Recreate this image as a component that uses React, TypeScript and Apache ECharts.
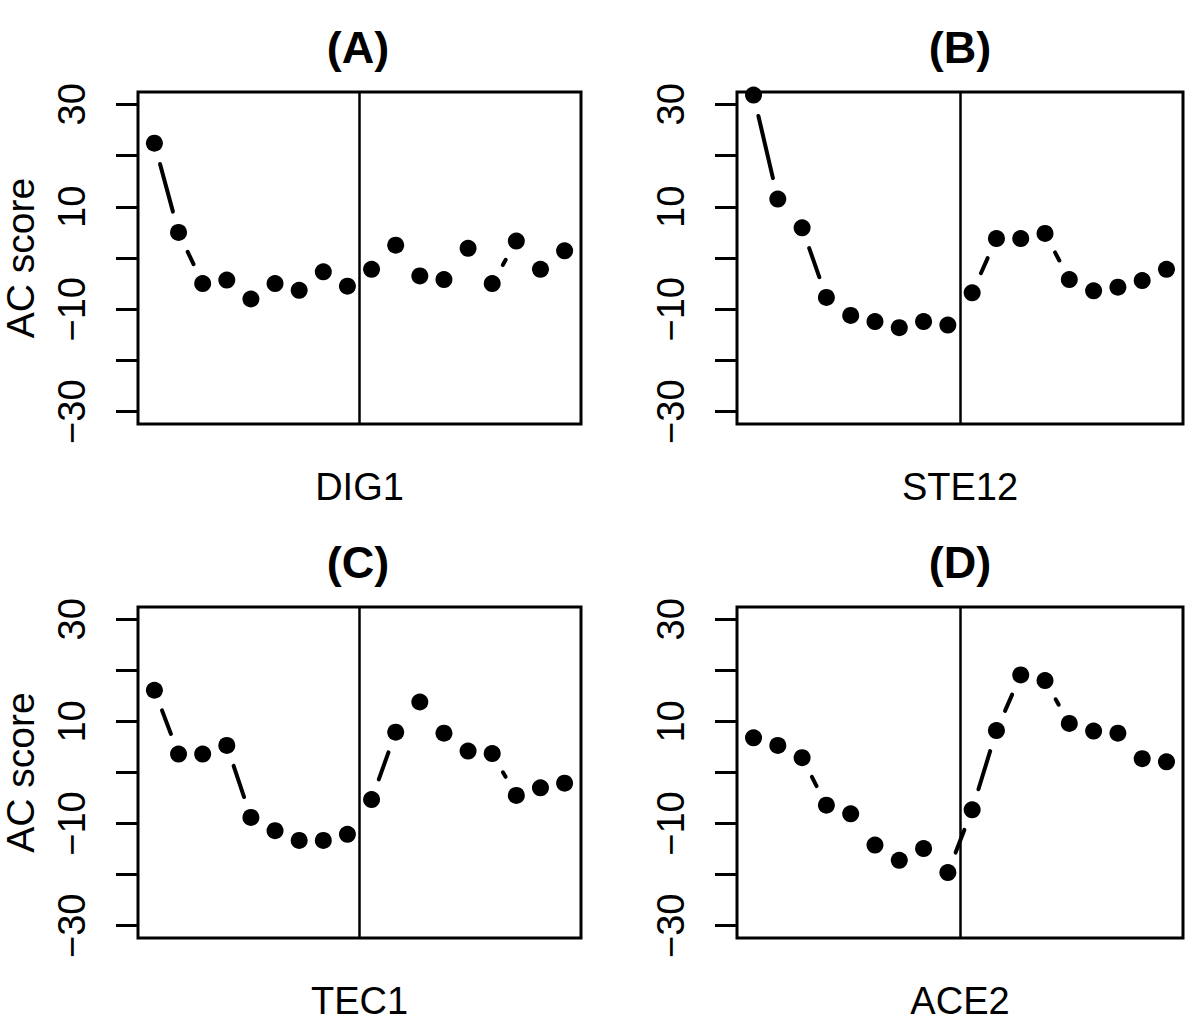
import React, { useEffect, useRef } from "react";
import * as echarts from "echarts";

const positions = [1, 2, 3, 4, 5, 6, 7, 8, 9, 10, 11, 12, 13, 14, 15, 16, 17, 18];

const dig1 = [22.4, 5.0, -5.0, -4.3, -8.0, -5.0, -6.3, -2.7, -5.5, -2.2, 2.5, -3.5, -4.2, 1.9, -5.0, 3.3, -2.2, 1.4];
const ste12 = [31.8, 11.5, 5.9, -7.7, -11.2, -12.4, -13.6, -12.4, -13.1, -6.8, 3.8, 3.8, 4.8, -4.2, -6.4, -5.7, -4.4, -2.2];
const tec1 = [16.1, 3.6, 3.6, 5.3, -8.8, -11.4, -13.3, -13.3, -12.1, -5.3, 7.9, 13.8, 7.7, 4.2, 3.7, -4.5, -3.0, -2.1];
const ace2 = [6.8, 5.3, 2.9, -6.4, -8.1, -14.2, -17.2, -14.9, -19.6, -7.3, 8.2, 19.1, 18.0, 9.6, 8.1, 7.7, 2.7, 2.1];

const panelTitles = ["(A)", "(B)", "(C)", "(D)"];
const geneNames = ["DIG1", "STE12", "TEC1", "ACE2"];
const panelValues = [dig1, ste12, tec1, ace2];
const yTicks = [-30, -20, -10, 0, 10, 20, 30];
const yTickLabels = [-30, -10, 10, 30];
const splitPosition = [9.5];
const yLabel = "AC score";

const FONT = "Liberation Sans, Arial, Helvetica, sans-serif";

export default function App() {
  const ref = useRef<HTMLDivElement>(null);

  useEffect(() => {
    if (!ref.current) return;
    const chart = echarts.init(ref.current, undefined, { renderer: "svg" });

    const gridPos = [
      { left: 135, top: 92, width: 446, height: 332 },
      { left: 737, top: 92, width: 446, height: 332 },
      { left: 135, top: 607, width: 446, height: 331 },
      { left: 737, top: 607, width: 446, height: 331 },
    ];

    const grids = gridPos.map((g) => ({
      ...g,
      show: true,
      borderColor: "#000",
      borderWidth: 3,
      backgroundColor: "transparent",
      containLabel: false,
    }));

    const xAxes = gridPos.map((_, i) => ({
      type: "value",
      gridIndex: i,
      min: 1 - 0.68,
      max: 18 + 0.68,
      axisLine: { show: false },
      axisTick: { show: false },
      axisLabel: { show: false },
      splitLine: { show: false },
      name: geneNames[i],
      nameLocation: "middle",
      nameGap: 44,
      nameTextStyle: { fontFamily: FONT, fontSize: 38, color: "#000" },
    }));

    const yAxes = gridPos.map((_, i) => ({
      type: "value",
      gridIndex: i,
      min: -32.4,
      max: 32.4,
      axisLine: { show: false },
      axisTick: {
        show: true,
        length: 22,
        customValues: yTicks,
        lineStyle: { color: "#000", width: 3 },
      },
      axisLabel: {
        show: true,
        customValues: yTickLabels,
        rotate: 90,
        margin: 47,
        fontFamily: FONT,
        fontSize: 38,
        color: "#000",
        formatter: (v: number) => (v < 0 ? "\u2212" + Math.abs(v) : String(v)),
      },
      splitLine: { show: false },
      name: i % 2 === 0 ? yLabel : "",
      nameLocation: "middle",
      nameGap: 98,
      nameRotate: 90,
      nameTextStyle: { fontFamily: FONT, fontSize: 39, color: "#000" },
    }));

    const series: any[] = [];
    panelValues.forEach((vals, i) => {
      const segs = vals.slice(0, -1).map((v, k) => [positions[k], v, positions[k + 1], vals[k + 1]]);
      series.push({
        type: "custom",
        xAxisIndex: i,
        yAxisIndex: i,
        data: segs,
        encode: { x: [0, 2], y: [1, 3] },
        silent: true,
        renderItem: (params: any, api: any) => {
          const p1 = api.coord([api.value(0), api.value(1)]);
          const p2 = api.coord([api.value(2), api.value(3)]);
          const dx = p2[0] - p1[0];
          const dy = p2[1] - p1[1];
          const d = Math.sqrt(dx * dx + dy * dy);
          const gap = 21.5;
          if (d <= 2 * gap) return null;
          const ux = dx / d;
          const uy = dy / d;
          return {
            type: "line",
            shape: {
              x1: p1[0] + ux * gap,
              y1: p1[1] + uy * gap,
              x2: p2[0] - ux * gap,
              y2: p2[1] - uy * gap,
            },
            style: { stroke: "#000", lineWidth: 4, lineCap: "round" },
          };
        },
      });
      series.push({
        type: "scatter",
        xAxisIndex: i,
        yAxisIndex: i,
        data: vals.map((v, k) => [positions[k], v]),
        symbol: "circle",
        symbolSize: 17,
        itemStyle: { color: "#000", opacity: 1 },
        silent: true,
        z: 3,
        markLine: {
          silent: true,
          symbol: "none",
          label: { show: false },
          lineStyle: { color: "#000", width: 2.5, type: "solid", opacity: 1 },
          data: splitPosition.map((x) => ({ xAxis: x })),
        },
      });
    });

    const titleCenters = [
      { x: 358, y: 25 },
      { x: 960, y: 25 },
      { x: 358, y: 540 },
      { x: 960, y: 540 },
    ];

    chart.setOption({
      animation: false,
      backgroundColor: "#fff",
      title: panelTitles.map((t, i) => ({
        text: t,
        left: titleCenters[i].x,
        top: titleCenters[i].y,
        textAlign: "center",
        padding: 0,
        textStyle: { fontFamily: FONT, fontSize: 45, fontWeight: "bold", color: "#000" },
      })),
      grid: grids,
      xAxis: xAxes,
      yAxis: yAxes,
      series,
    });

    return () => chart.dispose();
  }, []);

  return <div ref={ref} style={{ width: 1200, height: 1032, position: "absolute", left: 0, top: 0 }} />;
}
